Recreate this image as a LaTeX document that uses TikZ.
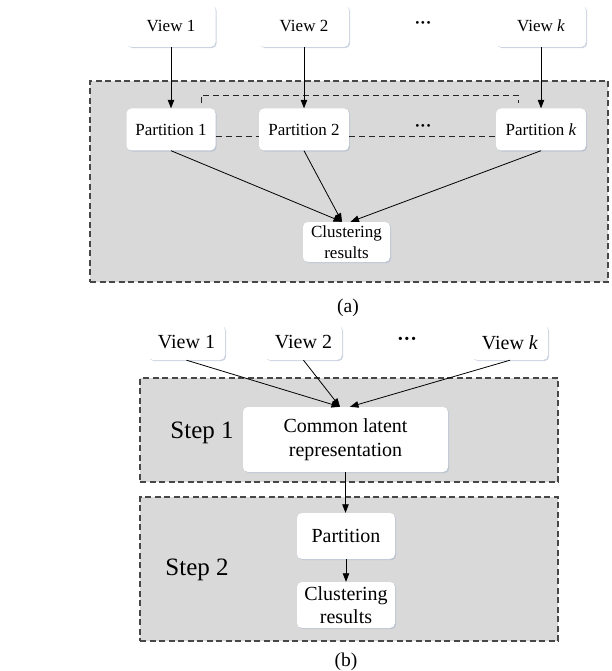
\documentclass[tikz,border=0pt]{standalone}
\usepackage{fontspec}
\setmainfont{Liberation Serif}
\usetikzlibrary{arrows.meta,shadows}
\definecolor{shad}{RGB}{170,182,205}
\begin{document}
\begin{tikzpicture}[x=1pt,y=-1pt,
  box/.style={draw=none, fill=white, rounded corners=5pt,
    drop shadow={shadow xshift=1.2pt, shadow yshift=-1.2pt, fill=shad, opacity=0.6},
    inner sep=0pt, align=center},
  abox/.style={box, font=\fontsize{17}{20.5}\selectfont},
  bbox/.style={box, font=\fontsize{20}{23.5}\selectfont},
  region/.style={draw=black!72, fill=black!15, dash pattern=on 6pt off 3.5pt, line width=1.1pt, inner sep=0pt},
  arr/.style={-{Triangle[length=8.5pt,width=6.5pt]}, line width=0.8pt},
  link/.style={draw=black!85, dash pattern=on 6pt off 4pt, line width=1pt},
  ellip/.style={font=\fontsize{17}{20}\selectfont\bfseries, inner sep=0pt},
  steplabel/.style={font=\fontsize{25}{30}\selectfont, inner sep=0pt},
  caption/.style={font=\fontsize{19.5}{23}\selectfont, inner sep=0pt}
]
\useasboundingbox (0,0) rectangle (611,671);

% ---------- (a) ----------
\node[region, minimum width=518pt, minimum height=201pt] (ga) at (349,181.5) {};

\node[abox, minimum width=89pt, minimum height=42pt] (v1a) at (171,26) {View 1};
\node[abox, minimum width=90pt, minimum height=42pt] (v2a) at (304,26) {View 2};
\node[ellip] (da) at (423,25) {···};
\node[abox, minimum width=90pt, minimum height=42pt] (vka) at (541,26) {View \textit{k}};

\node[abox, minimum width=89pt, minimum height=42pt] (p1) at (171,129.5) {Partition 1};
\node[abox, minimum width=90pt, minimum height=42pt] (p2) at (304,129.5) {Partition 2};
\node[abox, minimum width=90pt, minimum height=42pt] (pk) at (541,129.5) {Partition \textit{k}};

\draw[link] ([xshift=30pt,yshift=5pt]p1.north) -- ++(0,-8) -| ([xshift=-23pt,yshift=5pt]pk.north);
\draw[link] ([yshift=-7.5pt]p1.east) -- ([yshift=-7.5pt]p2.west);
\draw[link] ([yshift=-7.5pt]p2.east) -- ([yshift=-7.5pt]pk.west);
\node[ellip] (dp) at (423,128) {···};

\node[abox, minimum width=87pt, minimum height=40pt] (cla) at (346.5,242) {Clustering\\results};

\draw[arr] (v1a) -- (p1);
\draw[arr] (v2a) -- (p2);
\draw[arr] (vka) -- (pk);
\draw[arr] (p1.south) -- ([xshift=-4.5pt]cla.north);
\draw[arr] (p2.south) -- ([xshift=-4.5pt]cla.north);
\draw[arr] (pk.south) -- ([xshift=4pt]cla.north);

\node[caption] (la) at (348,308) {(a)};

% ---------- (b) ----------
\node[region, minimum width=418pt, minimum height=104pt] (s1) at (349,430) {};
\node[region, minimum width=418pt, minimum height=144pt] (s2) at (349,569) {};

\node[bbox, minimum width=77pt, minimum height=35pt] (v1b) at (186.5,342.5) {View 1};
\node[bbox, minimum width=77pt, minimum height=35pt] (v2b) at (303.5,342.5) {View 2};
\node[ellip, font=\fontsize{20}{23}\selectfont\bfseries] (db) at (407,341) {···};
\node[bbox, minimum width=76pt, minimum height=35pt] (vkb) at (510,342.5) {View \textit{k}};

\node[steplabel] (st1) at (202,433) {Step 1};
\node[bbox, minimum width=205pt, minimum height=65pt] (com) at (345.5,439.5) {Common latent\\representation};

\node[bbox, minimum width=98pt, minimum height=46pt] (pb) at (346,536) {Partition};
\node[bbox, minimum width=98pt, minimum height=46pt] (clb) at (346,605) {Clustering\\results};
\node[steplabel] (st2) at (197,570) {Step 2};

\draw[arr] (v1b.south) -- ([xshift=-5.5pt]com.north);
\draw[arr] (v2b.south) -- ([xshift=-5.5pt]com.north);
\draw[arr] (vkb.south) -- ([xshift=4.5pt]com.north);
\draw[arr] (com.south) -- (com.south |- pb.north);
\draw[arr] (pb) -- (clb);

\node[caption] (lb) at (346,662) {(b)};
\end{tikzpicture}
\end{document}
